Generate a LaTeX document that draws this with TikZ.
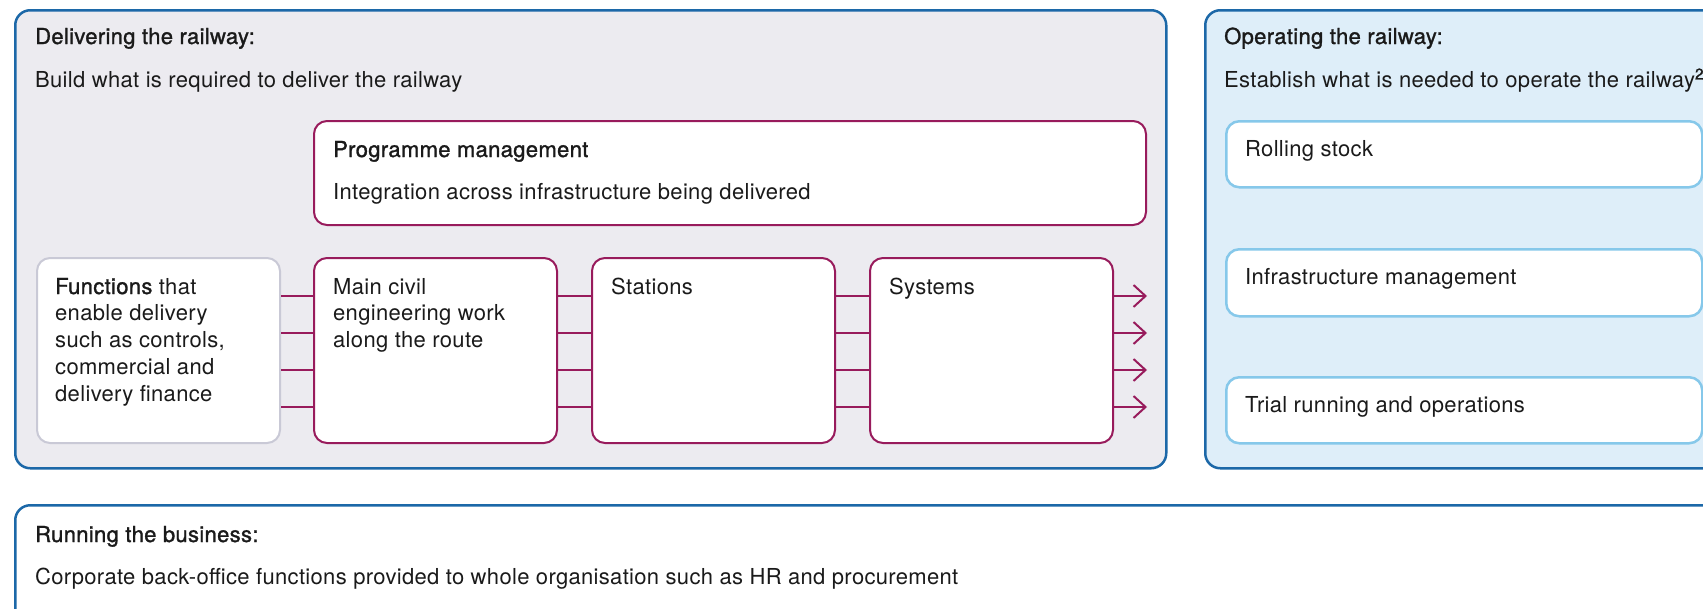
\documentclass[tikz,border=0pt]{standalone}
\usepackage{fontspec}
\setmainfont[LetterSpace=1.5]{TeX Gyre Heros}
\newfontfamily\headfont[FakeBold=1.3,LetterSpace=1.5]{TeX Gyre Heros}
\usetikzlibrary{arrows.meta,calc}

\definecolor{frameblue}{RGB}{28,104,168}
\definecolor{delivfill}{RGB}{236,235,240}
\definecolor{opfill}{RGB}{222,238,249}
\definecolor{plum}{RGB}{152,27,92}
\definecolor{skyline}{RGB}{134,200,234}
\definecolor{greyline}{RGB}{201,201,214}
\definecolor{ink}{RGB}{26,26,26}

\newcommand\bsize{\fontsize{22}{26.8}\selectfont}
% several lines whose reference point is the baseline of the first line
\newcommand\toplines[1]{\parbox[t]{230pt}{\raggedright\bsize #1}}

\tikzset{
  panel/.style={draw=frameblue, line width=2.5pt, rounded corners=15pt,
    anchor=north west, inner sep=0pt},
  card/.style={fill=white, line width=2pt, rounded corners=13pt,
    anchor=north west, inner sep=0pt},
  stagebox/.style={card, draw=plum, minimum width=243pt, minimum height=185pt},
  opbox/.style={card, draw=skyline, line width=2.5pt, minimum width=476pt, minimum height=66pt},
  txt/.style={anchor=base west, inner sep=0pt, text=ink, font=\bsize, align=left},
  head/.style={txt, font=\bsize\headfont},
  link/.style={draw=plum, line width=2pt},
}

\begin{document}
\begin{tikzpicture}[x=1pt, y=-1pt]
\clip (0,0) rectangle (1703,608);
\fill[white] (0,0) rectangle (1703,608);

% three areas of work
\node[panel, fill=delivfill, minimum width=1151pt, minimum height=458pt] (deliv) at (14,9) {};
\node[panel, fill=opfill, minimum width=560pt, minimum height=458pt] (oper) at (1204,9) {};
\node[panel, fill=white, minimum width=1720pt, minimum height=160pt] (biz) at (14,504) {};

% delivering the railway
\node[head] (dtitle) at ([xshift=21pt,yshift=-35pt]deliv.north west) {Delivering the railway:};
\node[txt] (dsub) at ([xshift=21pt,yshift=-78pt]deliv.north west) {Build what is required to deliver the railway};

\node[card, draw=plum, minimum width=832pt, minimum height=104pt] (prog) at (313,120) {};
\node[head] at ([xshift=20pt,yshift=-37pt]prog.north west) {Programme management};
\node[txt] at ([xshift=20pt,yshift=-79pt]prog.north west) {Integration across infrastructure being delivered};

\node[stagebox, draw=greyline] (fn) at (36,257) {};
\node[stagebox] (mc) at (313,257) {};
\node[stagebox] (st) at (591,257) {};
\node[stagebox] (sy) at (869,257) {};

\node[txt] at ([xshift=19pt,yshift=-37pt]fn.north west)
  {\toplines{{\headfont Functions} that\\enable delivery\\such as controls,\\commercial and\\delivery finance}};
\node[txt] at ([xshift=20pt,yshift=-37pt]mc.north west)
  {\toplines{Main civil\\engineering work\\along the route}};
\node[txt] at ([xshift=20pt,yshift=-37pt]st.north west) {Stations};
\node[txt] at ([xshift=20pt,yshift=-37pt]sy.north west) {Systems};

% four parallel streams passing through the stages
\foreach \d in {39,76,113,150} {
  \draw[link] ([yshift=-\d pt]fn.north east) -- ([yshift=-\d pt]mc.north west);
  \draw[link] ([yshift=-\d pt]mc.north east) -- ([yshift=-\d pt]st.north west);
  \draw[link] ([yshift=-\d pt]st.north east) -- ([yshift=-\d pt]sy.north west);
  \draw[link, -{Straight Barb[length=12pt, width=22pt]}]
    ([yshift=-\d pt]sy.north east) -- ++(33,0);
}

% operating the railway
\node[head] (otitle) at ([xshift=20pt,yshift=-35pt]oper.north west) {Operating the railway:};
\node[txt] (osub) at ([xshift=20pt,yshift=-78pt]oper.north west)
  {Establish what is needed to operate the railway\textsuperscript{\headfont 2}};

\node[opbox] (rs) at (1225,120) {};
\node[opbox, minimum height=67pt] (im) at (1225,248) {};
\node[opbox] (tr) at (1225,376) {};
\node[txt] at ([xshift=20pt,yshift=-36pt]rs.north west) {Rolling stock};
\node[txt] at ([xshift=20pt,yshift=-36pt]im.north west) {Infrastructure management};
\node[txt] at ([xshift=20pt,yshift=-36pt]tr.north west) {Trial running and operations};

% running the business
\node[head] (btitle) at ([xshift=21pt,yshift=-38pt]biz.north west) {Running the business:};
\node[txt] (bsub) at ([xshift=21pt,yshift=-80pt]biz.north west)
  {Corporate back-office functions provided to whole organisation such as HR and procurement};
\end{tikzpicture}
\end{document}
